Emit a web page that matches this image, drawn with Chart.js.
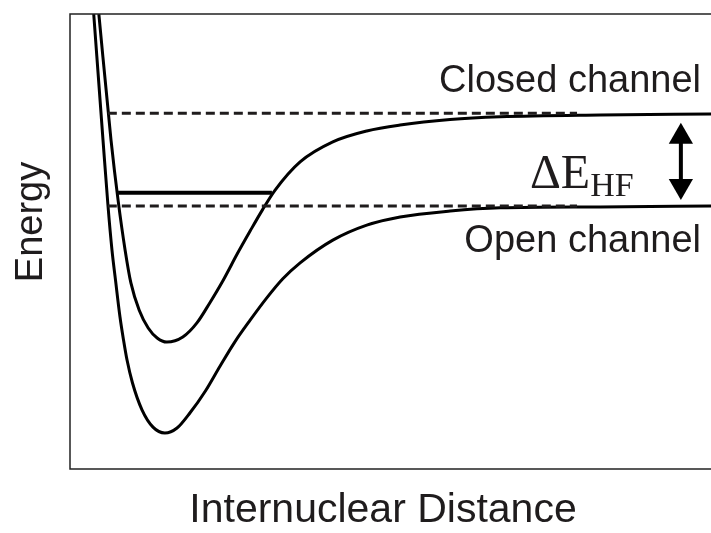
<!DOCTYPE html>
<html>
<head>
<meta charset="utf-8">
<script src="https://cdn.jsdelivr.net/npm/chart.js@4.4.1/dist/chart.umd.min.js"></script>
<style>
  html, body { margin: 0; padding: 0; background: #fff; }
  #wrap { width: 711px; height: 533px; }
</style>
</head>
<body>
<div id="wrap"><canvas id="pes" width="711" height="533"></canvas></div>
<script>
// potential curves (arbitrary units, 0..10 on both axes)
const openX  = [0.37, 0.515, 0.593, 0.655, 0.71, 0.78, 0.835, 0.889, 0.975, 1.123, 1.295, 1.48, 1.67, 1.87, 2.11, 2.34, 2.57, 2.81, 3.07, 3.32, 3.59, 4.10, 4.63, 5.15, 5.93, 6.71, 8.27, 10];
const openY  = [10, 7.23, 5.78, 4.81, 4.15, 3.34, 2.835, 2.40, 1.89, 1.30, 0.92, 0.79, 0.90, 1.23, 1.71, 2.26, 2.79, 3.27, 3.76, 4.18, 4.53, 5.03, 5.36, 5.54, 5.67, 5.74, 5.76, 5.78];

const closedX = [0.45, 0.64, 0.75, 0.86, 0.95, 1.08, 1.22, 1.36, 1.51, 1.76, 1.98, 2.18, 2.39, 2.61, 2.81, 3.00, 3.20, 3.59, 4.10, 4.63, 5.15, 5.93, 6.71, 8.27, 10];
const closedY = [10, 7.23, 5.91, 4.81, 4.09, 3.49, 3.10, 2.88, 2.79, 2.90, 3.21, 3.65, 4.15, 4.73, 5.23, 5.69, 6.13, 6.75, 7.19, 7.43, 7.56, 7.68, 7.74, 7.78, 7.80];

// thresholds (dashed) and the bound state
const dashX = [0.59, 7.91];
const closedDashY = [7.82, 7.82];
const openDashY = [5.78, 5.78];
const boundX = [0.75, 3.15];
const boundY = [6.07, 6.07];

// double arrow for the hyperfine splitting
const arrowX = [9.53, 9.53];
const arrowY = [7.30, 6.22];

function pts(xs, ys) {
    return xs.map(function(x, i) { return {x: x, y: ys[i]}; });
}

const ink = '#1f1c1d';

// frame + text labels
const decor = {
    id: 'decor',
    afterDraw: function(chart) {
        const c = chart.ctx;
        const a = chart.chartArea;
        c.save();
        c.strokeStyle = '#222';
        c.lineWidth = 1.5;
        c.beginPath();
        c.moveTo(a.right + 1, a.top);
        c.lineTo(a.left, a.top);
        c.lineTo(a.left, a.bottom);
        c.lineTo(a.right + 1, a.bottom);
        c.stroke();

        c.fillStyle = ink;
        c.textBaseline = 'alphabetic';
        c.font = '38px "Liberation Sans", Arial, sans-serif';
        c.textAlign = 'right';
        c.fillText('Closed channel', 701, 92);
        c.fillText('Open channel', 701, 252);

        c.textAlign = 'left';
        c.font = '48px "Liberation Serif", "Times New Roman", serif';
        c.fillText('\u0394E', 530, 188);
        const w = c.measureText('\u0394E').width;
        c.font = '34px "Liberation Serif", "Times New Roman", serif';
        c.fillText('HF', 530 + w, 196);

        c.font = '41px "Liberation Sans", Arial, sans-serif';
        c.textAlign = 'center';
        c.fillText('Internuclear Distance', 383, 522);

        c.save();
        c.translate(42, 222);
        c.rotate(-Math.PI / 2);
        c.font = '38px "Liberation Sans", Arial, sans-serif';
        c.fillText('Energy', 0, 0);
        c.restore();
        c.restore();
    }
};

new Chart(document.getElementById('pes'), {
    type: 'line',
    data: {
        datasets: [
            { data: pts(dashX, closedDashY), borderColor: ink, borderWidth: 3, borderDash: [9, 5] },
            { data: pts(dashX, openDashY), borderColor: ink, borderWidth: 3, borderDash: [9, 5] },
            { data: pts(boundX, boundY), borderColor: '#000', borderWidth: 4 },
            { data: pts(openX, openY), borderColor: '#000', borderWidth: 3, cubicInterpolationMode: 'monotone' },
            { data: pts(closedX, closedY), borderColor: '#000', borderWidth: 3, cubicInterpolationMode: 'monotone' },
            {
                data: pts(arrowX, arrowY), borderColor: '#000', borderWidth: 4,
                pointStyle: 'triangle', pointRadius: 14, pointRotation: [0, 180],
                pointBackgroundColor: '#000', pointBorderWidth: 0
            }
        ]
    },
    options: {
        responsive: false,
        animation: false,
        devicePixelRatio: 1,
        layout: { autoPadding: false, padding: { left: 70, top: 14, right: 0, bottom: 64 } },
        elements: { point: { radius: 0, hoverRadius: 0 } },
        plugins: { legend: { display: false }, tooltip: { enabled: false } },
        scales: {
            x: { type: 'linear', min: 0, max: 10, display: false },
            y: { type: 'linear', min: 0, max: 10, display: false }
        }
    },
    plugins: [decor]
});
</script>
</body>
</html>
